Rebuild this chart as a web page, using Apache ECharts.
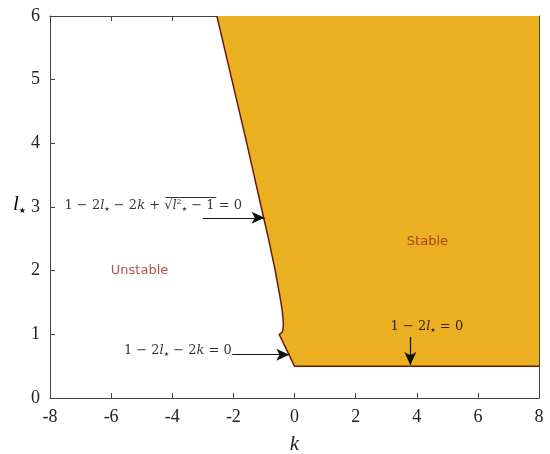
<!DOCTYPE html>
<html>
<head>
<meta charset="utf-8">
<script src="https://cdn.jsdelivr.net/npm/echarts@6/dist/echarts.min.js"></script>
<style>
  html, body { margin: 0; padding: 0; background: #fff; }
  #chart { width: 550px; height: 454px; }
</style>
</head>
<body>
<div id="chart"></div>
<script>
// stability boundary (k, l*), top to bottom then along l* = 0.5
const boundaryK = [-2.54, -2.05, -1.56, -1.09, -0.85, -0.63, -0.48, -0.41, -0.375, -0.366, -0.376, -0.407, -0.44, -0.5, 0, 8];
const boundaryL = [6, 5, 4, 3, 2.5, 2, 1.6, 1.4, 1.25, 1.15, 1.08, 1.03, 1.01, 1.0, 0.5, 0.5];

// annotation arrows: [fromK, fromL, toK, toL]
const arrows = [
  [-3.0, 2.83, -0.98, 2.83],
  [-2.04, 0.68, -0.17, 0.68],
  [3.79, 0.96, 3.79, 0.52]
];
// bar over the square root: [fromK, toK, l]
const vinculum = [-4.22, -2.56, 3.15];

const serif = "DejaVu Serif";
const fillColor = "#EBB022";
const edgeColor = "#6e1808";
const labelRed = "#a3261c";

const boundary = boundaryK.map((k, i) => [k, boundaryL[i]]);
const polygon = boundary.concat([[8, 6]]);

const mathRich = {
  n: { fontFamily: serif, fontSize: 13, color: "#000" },
  i: { fontFamily: serif, fontStyle: "italic", fontSize: 13, color: "#000" },
  s: { fontFamily: "DejaVu Sans", fontSize: 6, color: "#000", padding: [8, 0, 0, 0] },
  p: { fontFamily: serif, fontSize: 8, color: "#000", padding: [0, 0, 8, 0] }
};

const myChart = echarts.init(document.getElementById("chart"));

const axisCommon = {
  axisLine: { show: true, onZero: false, lineStyle: { color: "#444", width: 1 } },
  axisTick: { show: true, inside: true, length: 5, lineStyle: { color: "#444" } },
  splitLine: { show: false }
};

const option = {
  animation: false,
  grid: { left: 50, right: 11, top: 16, bottom: 56, outerBoundsMode: "none", containLabel: false },
  xAxis: [
    Object.assign({
      type: "value", min: -8, max: 8, interval: 2,
      name: "k", nameLocation: "middle", nameGap: 36,
      nameTextStyle: { fontFamily: "Liberation Serif", fontStyle: "italic", fontSize: 21, color: "#222" },
      axisLabel: { fontFamily: "Liberation Serif", fontSize: 18, color: "#222", margin: 10 }
    }, axisCommon),
    Object.assign({
      type: "value", min: -8, max: 8, interval: 2, position: "top",
      axisLabel: { show: false }
    }, axisCommon)
  ],
  yAxis: [
    Object.assign({
      type: "value", min: 0, max: 6, interval: 1,
      axisLabel: { fontFamily: "Liberation Serif", fontSize: 18, color: "#222", margin: 10 }
    }, axisCommon),
    Object.assign({
      type: "value", min: 0, max: 6, interval: 1, position: "right",
      axisLabel: { show: false }
    }, axisCommon)
  ],
  graphic: [
    {
      type: "text", left: 13, top: 194,
      style: {
        text: "{i|l}{s|★}",
        rich: {
          i: { fontFamily: "Liberation Serif", fontStyle: "italic", fontSize: 21, color: "#222" },
          s: { fontFamily: "DejaVu Sans", fontSize: 8, color: "#222", padding: [12, 0, 0, 0] }
        }
      }
    }
  ],
  series: [
    {
      type: "custom",
      renderItem: function (params, api) {
        return {
          type: "polygon",
          shape: { points: polygon.map(p => api.coord(p)) },
          style: { fill: fillColor }
        };
      },
      data: [0],
      z: 1
    },
    {
      type: "line",
      data: boundary,
      showSymbol: false,
      lineStyle: { color: edgeColor, width: 1.5 },
      z: 2,
      markLine: {
        silent: true,
        symbol: ["none", "arrow"],
        symbolSize: [9, 13],
        label: { show: false },
        lineStyle: { color: "#111", width: 1.2, type: "solid" },
        data: arrows.map(a => [{ coord: [a[0], a[1]] }, { coord: [a[2], a[3]] }]).concat([
          [
            { coord: [vinculum[0], vinculum[2]], symbol: "none", lineStyle: { width: 0.8, color: "#000" } },
            { coord: [vinculum[1], vinculum[2]], symbol: "none" }
          ]
        ])
      }
    },
    {
      type: "scatter",
      symbolSize: 0,
      z: 5,
      label: { show: true },
      data: [
        {
          value: [-1.72, 3.02],
          label: {
            position: "left", distance: 0,
            formatter: "{n|1 − 2}{i|l}{s|★}{n| − 2}{i|k}{n| + √}{i|l}{p|2}{s|★}{n| − 1 = 0}",
            rich: mathRich
          }
        },
        {
          value: [-2.05, 0.74],
          label: {
            position: "left", distance: 0,
            formatter: "{n|1 − 2}{i|l}{s|★}{n| − 2}{i|k}{n| = 0}",
            rich: mathRich
          }
        },
        {
          value: [4.33, 1.12],
          label: {
            position: "inside",
            formatter: "{n|1 − 2}{i|l}{s|★}{n| = 0}",
            rich: mathRich
          }
        },
        {
          value: [4.35, 2.45],
          label: { position: "inside", formatter: "Stable", fontFamily: "DejaVu Sans", fontSize: 13, color: labelRed }
        },
        {
          value: [-5.07, 2.0],
          label: { position: "inside", formatter: "Unstable", fontFamily: "DejaVu Sans", fontSize: 13, color: labelRed }
        }
      ]
    }
  ]
};

myChart.setOption(option);
</script>
</body>
</html>
